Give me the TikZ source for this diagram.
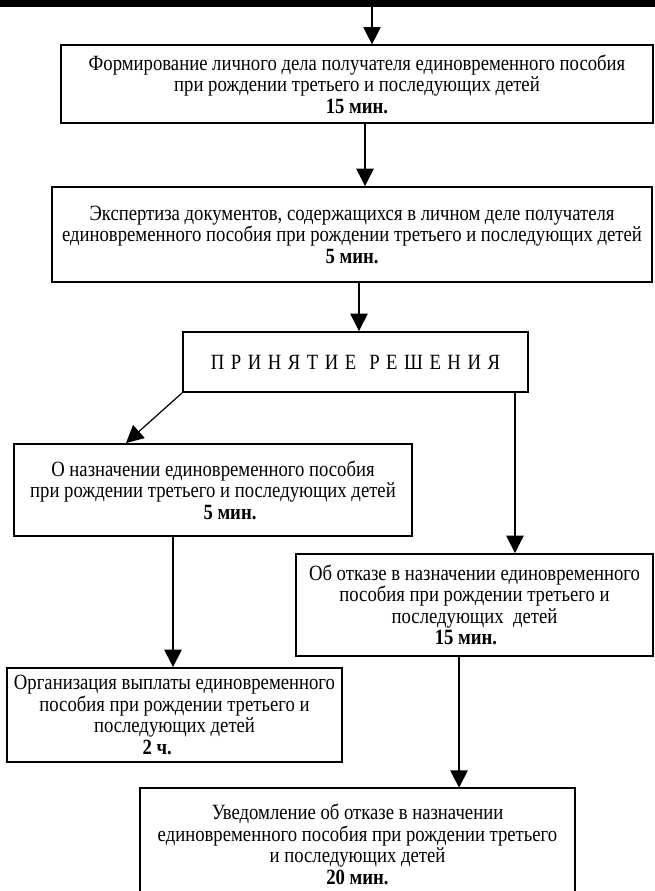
\documentclass[tikz,border=0pt]{standalone}
\usepackage{fontspec}
\setmainfont{Liberation Serif}[FakeStretch=0.86]
\usetikzlibrary{arrows.meta}

\begin{document}
\begin{tikzpicture}[
  x=0.75pt, y=-0.75pt,
  every node/.style={font=\fontsize{16.3}{16.1}\selectfont},
  stepbox/.style={rectangle, draw=black, line width=1.4pt, align=center, inner sep=2pt},
  openbox/.style={rectangle, align=center, inner sep=2pt},
  flowarrow/.style={-{Triangle[length=13pt,width=13pt]}, line width=0.9pt},
]

\clip (0,0) rectangle (655,891);

% ======= Top =======
\node[fill=black, inner sep=0pt, minimum width=491.25pt, minimum height=5pt, anchor=north] (topbar) at (327.5,0) {};

\node[stepbox, minimum width=444pt, minimum height=58pt] (form) at (357,84)
  {Формирование личного дела получателя единовременного пособия\\
   при рождении третьего и последующих детей\\
   \textbf{15 мин.}};

\node[stepbox, minimum width=450pt, minimum height=71.25pt] (expert) at (352,234.5)
  {Экспертиза документов, содержащихся в личном деле получателя\\
   единовременного пособия при рождении третьего и последующих детей\\
   \textbf{5 мин.}};

% Decision
\node[stepbox, minimum width=258.75pt, minimum height=45pt] (decide) at (355.5,362)
  {{\spaceskip=0.3em П Р И Н Я Т И Е\hspace{0.6em}Р Е Ш Е Н И Я}};

% ======= Left branch =======
\node[stepbox, minimum width=298.5pt, minimum height=69pt] (grant) at (213,490)
  {О назначении единовременного пособия\\
   при рождении третьего и последующих детей\\
   \hspace*{25.5pt}\textbf{5 мин.}};

\node[stepbox, minimum width=251.25pt, minimum height=70.5pt] (payout) at (174.5,715)
  {Организация выплаты единовременного\\
   пособия при рождении третьего и\\
   последующих детей\hspace*{32pt}\\
   \textbf{2 ч.}\hspace*{26pt}};

% ======= Right branch =======
\node[stepbox, minimum width=267.75pt, minimum height=76.5pt] (refuse) at (474.5,605)
  {Об отказе в назначении единовременного\\
   пособия при рождении третьего и\hspace*{37.5pt}\\
   последующих\ \ детей\\
   \textbf{15 мин.}\hspace*{12.8pt}};

\node[openbox, minimum width=326.25pt, minimum height=84.75pt] (notice) at (357.5,844.5)
  {Уведомление об отказе в назначении\\
   единовременного пособия при рождении третьего\\
   и последующих детей\\
   \textbf{20 мин.}};
\draw[line width=1.4pt] (notice.south west) -- (notice.north west) -- (notice.north east) -- (notice.south east);

% Connectors
\draw[flowarrow] ([xshift=11.25pt]form.north |- topbar.south) -- ([xshift=11.25pt]form.north);
\draw[flowarrow] ([xshift=6pt]form.south) -- ([xshift=6pt]form.south |- expert.north);
\draw[flowarrow] ([xshift=5.25pt]expert.south) -- ([xshift=5.25pt]expert.south |- decide.north);
\draw[flowarrow] (decide.south west) -- ([xshift=-65.25pt]grant.north);
\draw[flowarrow] ([xshift=119.6pt]decide.south) -- ([xshift=119.6pt]decide.south |- refuse.north);
\draw[flowarrow] ([xshift=-30pt]grant.south) -- ([xshift=-30pt]grant.south |- payout.north);
\draw[flowarrow] ([xshift=-11.6pt]refuse.south) -- ([xshift=-11.6pt]refuse.south |- notice.north);

\end{tikzpicture}
\end{document}
